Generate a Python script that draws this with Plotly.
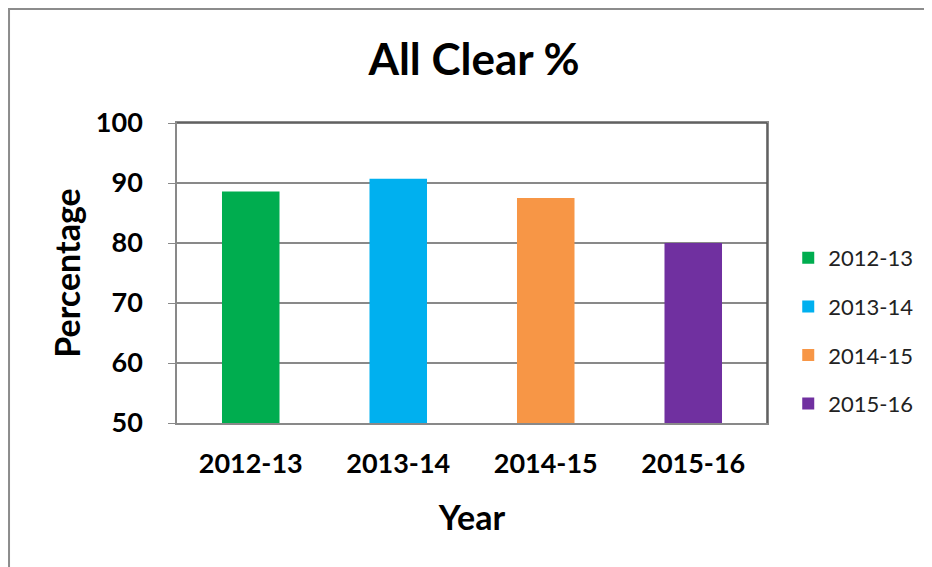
import plotly.graph_objects as go

categories = ["2012-13", "2013-14", "2014-15", "2015-16"]
values = [88.6, 90.7, 87.5, 80.0]
colors = ["#00AD4F", "#00B0EF", "#F79646", "#7030A0"]
y_ticks = [50, 60, 70, 80, 90, 100]

FONT = "Lato, 'Open Sans', sans-serif"

fig = go.Figure()
for i, (c, v, col) in enumerate(zip(categories, values, colors)):
    fig.add_trace(go.Bar(
        x=[c], y=[v], name=c, marker=dict(color=col, line=dict(color=col, width=0)),
        legendgroup=f"g{i}", width=0.39,
    ))

# page body has an 8px margin; compensate in the layout margins
fig.update_layout(
    width=932, height=567,
    margin=dict(l=169, r=173, t=115, b=152),
    paper_bgcolor="white", plot_bgcolor="white",
    barmode="overlay",
    title=dict(text="<b>All Clear %</b>", x=0.5, xanchor="center", y=0.909, yanchor="middle",
               font=dict(family=FONT, size=44, color="black")),
    font=dict(family=FONT, color="black"),
    legend=dict(x=1.036, y=0.62, xanchor="left", yanchor="top",
                font=dict(family=FONT, size=22, color="#222"),
                tracegroupgap=17, itemwidth=30, bgcolor="rgba(0,0,0,0)"),
    showlegend=True,
)
fig.update_xaxes(
    categoryorder="array", categoryarray=categories,
    tickfont=dict(family=FONT, size=27, color="black"),
    tickprefix="<b>", ticksuffix="</b>", ticklabelstandoff=16,
    title=dict(text="<b>Year</b>", font=dict(family=FONT, size=34, color="black"), standoff=28),
    showline=True, linecolor="#898989", linewidth=1.5, mirror=True,
    ticks="", showgrid=False,
)
fig.update_yaxes(
    range=[50, 100], tickvals=y_ticks, ticktext=[f"<b>{t}</b>" for t in y_ticks],
    tickfont=dict(family=FONT, size=27, color="black"), ticklabelstandoff=20,
    title=dict(text="<b>Percentage</b>", font=dict(family=FONT, size=34, color="black"), standoff=5),
    showgrid=True, gridcolor="#898989", gridwidth=1.5,
    showline=True, linecolor="#898989", linewidth=1.5, mirror=True,
    ticks="outside", ticklen=7, tickcolor="#898989", zeroline=False,
)
# darker top and right plot border
fig.add_shape(type="line", xref="paper", yref="paper", x0=0, x1=1, y0=1, y1=1,
              line=dict(color="#555555", width=1.5))
fig.add_shape(type="line", xref="paper", yref="paper", x0=1, x1=1, y0=0, y1=1,
              line=dict(color="#555555", width=1.5))
# chart border (outer frame)
fig.add_shape(type="rect", xref="paper", yref="paper",
              x0=-0.2847, x1=1.5, y0=-0.8, y1=1.38,
              line=dict(color="#8c8c8c", width=2), fillcolor="rgba(0,0,0,0)", layer="below")

fig.write_html("out.html")
